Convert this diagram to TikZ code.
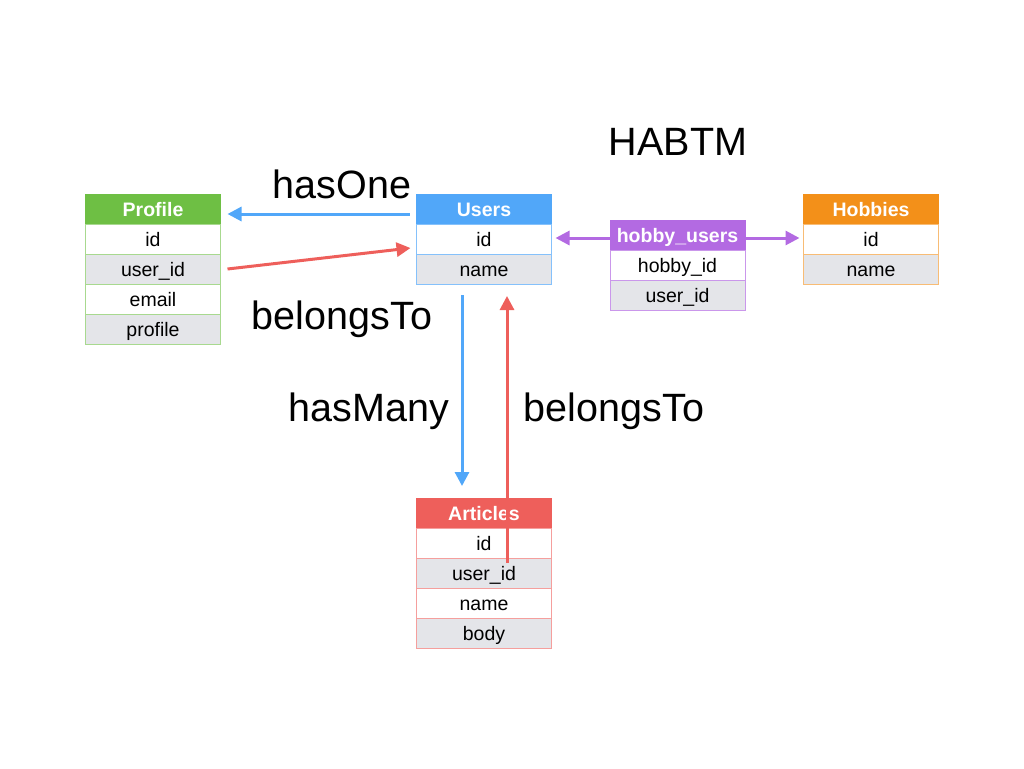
\documentclass[tikz,border=0pt]{standalone}
\usepackage{fontspec}
\setmainfont{Liberation Sans}
\usetikzlibrary{arrows.meta,positioning}
\definecolor{profilegreen}{HTML}{6EBF44}
\definecolor{usersblue}{HTML}{51A7F9}
\definecolor{hobbypurple}{HTML}{B36AE2}
\definecolor{hobbiesorange}{HTML}{F39019}
\definecolor{articlesred}{HTML}{EE5F5B}
\definecolor{rowgrey}{HTML}{E4E5E9}
\tikzset{
    %Define standard arrow tip
    >={Triangle[length=14pt,width=14pt]},
    %Define style for table cells
    cell/.style={
           rectangle,
           draw, line width=1pt,
           minimum width=135pt,
           minimum height=30pt,
           inner sep=0pt, outer sep=0pt,
           text height=17pt, text depth=2pt,
           font=\fontsize{19.5}{23}\selectfont,
           text centered},
    head/.style={
           cell,
           text=white,
           font=\fontsize{19.5}{23}\selectfont\bfseries},
    oddrow/.style={cell, fill=white},
    evenrow/.style={cell, fill=rowgrey},
    relation/.style={
           font=\fontsize{39.5}{46}\selectfont,
           inner sep=0pt},
    % Define arrow style
    pil/.style={
           ->,
           line width=3pt}
}
\begin{document}
\begin{tikzpicture}[x=1pt,y=-1pt,node distance=0pt]
\useasboundingbox (0,0) rectangle (1024,768);
 %Profile
\node[head, fill=profilegreen, draw=profilegreen] (profile) at (153,209) {Profile};
\node[oddrow, draw=profilegreen!60, below=of profile] (profile-id) {id};
\node[evenrow, draw=profilegreen!60, below=of profile-id] (profile-uid) {user\_id};
\node[oddrow, draw=profilegreen!60, below=of profile-uid] (profile-email) {email};
\node[evenrow, draw=profilegreen!60, below=of profile-email] (profile-profile) {profile};
 %Users
\node[head, fill=usersblue, draw=usersblue] (users) at (484,209) {Users};
\node[oddrow, draw=usersblue!70, below=of users] (users-id) {id};
\node[evenrow, draw=usersblue!70, below=of users-id] (users-name) {name};
 %hobby_users
\node[head, fill=hobbypurple, draw=hobbypurple] (hu) at (677.5,235) {hobby\_users};
\node[oddrow, draw=hobbypurple!70, below=of hu] (hu-hid) {hobby\_id};
\node[evenrow, draw=hobbypurple!70, below=of hu-hid] (hu-uid) {user\_id};
 %Hobbies
\node[head, fill=hobbiesorange, draw=hobbiesorange] (hobbies) at (871,209) {Hobbies};
\node[oddrow, draw=hobbiesorange!60, below=of hobbies] (hobbies-id) {id};
\node[evenrow, draw=hobbiesorange!60, below=of hobbies-id] (hobbies-name) {name};
 %Articles
\node[head, fill=articlesred, draw=articlesred] (articles) at (484,513) {Articles};
\node[oddrow, draw=articlesred!60, below=of articles] (articles-id) {id};
\node[evenrow, draw=articlesred!60, below=of articles-id] (articles-uid) {user\_id};
\node[oddrow, draw=articlesred!60, below=of articles-uid] (articles-name) {name};
\node[evenrow, draw=articlesred!60, below=of articles-name] (articles-body) {body};
 %labels
\node[relation] (habtm) at (678,142) {HABTM};
\node[relation] (has-one) at (342,184) {hasOne};
\node[relation] (belongs-profile) at (342,319) {belongsTo};
\node[relation] (has-many) at (369,411) {hasMany};
\node[relation] (belongs-articles) at (614,411) {belongsTo};
 %connectors
\draw[pil, usersblue] ([xshift=-7pt,yshift=-5pt]users.west) -- ([xshift=7pt,yshift=-5pt]profile.east);
\draw[pil, articlesred] ([xshift=7pt]profile-uid.east) -- ([xshift=-6pt,yshift=-9pt]users-id.west);
\draw[pil, usersblue] ([xshift=-22pt,yshift=-11pt]users-name.south) -- ([xshift=-22pt,yshift=12pt]articles.north);
\draw[pil, articlesred] ([xshift=23pt,yshift=10pt]articles-uid.center) -- ([xshift=23pt,yshift=-12pt]users-name.south);
\draw[pil, hobbypurple] ([yshift=-3pt]hu.west) -- ([xshift=4pt,yshift=1pt]users-id.east);
\draw[pil, hobbypurple] ([yshift=-3pt]hu.east) -- ([xshift=-4pt,yshift=1pt]hobbies-id.west);
\end{tikzpicture}
\end{document}
